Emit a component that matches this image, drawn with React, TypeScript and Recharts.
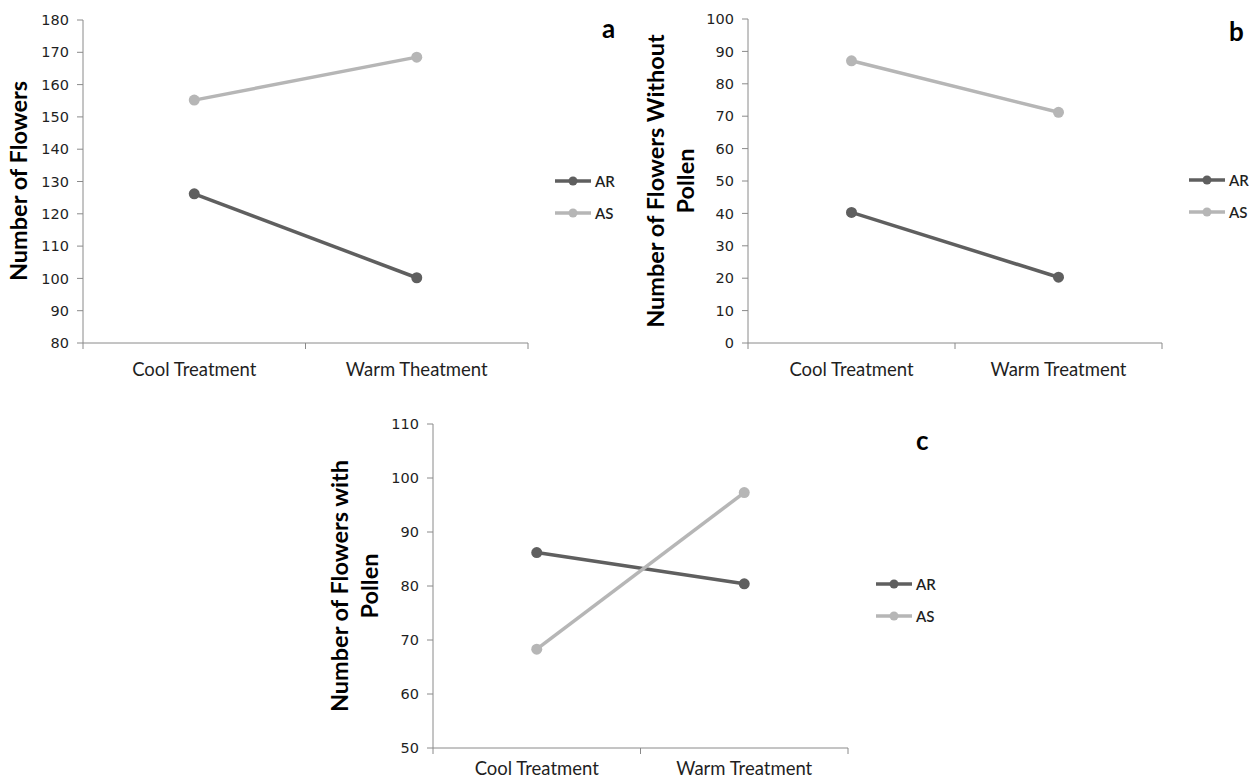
import { Legend, Line, LineChart, XAxis, YAxis } from 'recharts';

// values
const categoriesA = ['Cool Treatment', 'Warm Theatment'];
const categoriesBC = ['Cool Treatment', 'Warm Treatment'];

const flowersAR = [126.2, 100.2];
const flowersAS = [155.2, 168.5];
const withoutPollenAR = [40.3, 20.3];
const withoutPollenAS = [87.1, 71.2];
const withPollenAR = [86.2, 80.4];
const withPollenAS = [68.3, 97.3];

const ticksA = [80, 90, 100, 110, 120, 130, 140, 150, 160, 170, 180];
const ticksB = [0, 10, 20, 30, 40, 50, 60, 70, 80, 90, 100];
const ticksC = [50, 60, 70, 80, 90, 100, 110];

const AR_COLOR = '#5f5f5f';
const AS_COLOR = '#b6b6b6';
const AXIS_COLOR = '#8a8a8a';
const TEXT_COLOR = '#1f1f1f';
const FONT = 'Lato, "Open Sans", sans-serif';
const TICK_FONT = '"DejaVu Sans", sans-serif';

const buildRows = (cats: string[], ar: number[], as: number[]) =>
  cats.map((name, i) => ({ name, AR: ar[i], AS: as[i] }));

const CategoryTick = (props: any) => {
  const { x, payload, index, axisY, band, count, labelOffset } = props;
  return (
    <g>
      <line x1={x - band / 2} x2={x - band / 2} y1={axisY} y2={axisY + 6} stroke={AXIS_COLOR} />
      {index === count - 1 && (
        <line x1={x + band / 2} x2={x + band / 2} y1={axisY} y2={axisY + 6} stroke={AXIS_COLOR} />
      )}
      <text
        x={x}
        y={axisY + labelOffset}
        textAnchor='middle'
        dominantBaseline='central'
        fill={TEXT_COLOR}
        fontSize={18.5}
        fontFamily={FONT}
      >
        {payload.value}
      </text>
    </g>
  );
};

const AxisTitle = ({ lines, cx, cy }: { lines: string[]; cx: number; cy: number }) => (
  <text
    transform={`rotate(-90 ${cx} ${cy})`}
    x={cx}
    y={cy}
    textAnchor='middle'
    dominantBaseline='central'
    fontSize={23.5}
    fontWeight={700}
    fontFamily={FONT}
    fill='#000'
  >
    {lines.map((ln, i) => (
      <tspan key={ln} x={cx} dy={i === 0 ? 0 : 30}>
        {ln}
      </tspan>
    ))}
  </text>
);

const LegendContent = ({ payload }: any) => (
  <div style={{ display: 'flex', flexDirection: 'column', fontFamily: FONT }}>
    {(payload || []).map((entry: any) => (
      <div key={entry.value} style={{ display: 'flex', alignItems: 'center', height: 32 }}>
        <svg width={36} height={12}>
          <line x1={0} x2={36} y1={6} y2={6} stroke={entry.color} strokeWidth={3.5} />
          <circle cx={18} cy={6} r={4.5} fill={entry.color} />
        </svg>
        <span style={{ marginLeft: 4, fontSize: 15, fontWeight: 600, color: TEXT_COLOR }}>
          {entry.value}
        </span>
      </div>
    ))}
  </div>
);

type PanelProps = {
  left: number;
  top: number;
  width: number;
  height: number;
  yAxisWidth: number;
  marginRight: number;
  marginTop: number;
  plotHeight: number;
  data: { name: string; AR: number; AS: number }[];
  ticks: number[];
  titleLines: string[];
  titleX: number;
  titleY: number;
  legendX: number;
  legendY: number;
  labelOffset: number;
};

const Panel = (p: PanelProps) => {
  const axisY = p.marginTop + p.plotHeight;
  const plotRight = p.width - p.marginRight;
  const band = (plotRight - p.yAxisWidth) / p.data.length;
  const xAxisHeight = 20;
  return (
    <div style={{ position: 'absolute', left: p.left, top: p.top }}>
      <LineChart
        width={p.width}
        height={p.height}
        data={p.data}
        margin={{
          top: p.marginTop,
          right: p.marginRight,
          left: 0,
          bottom: p.height - axisY - xAxisHeight,
        }}
      >
        <XAxis
          dataKey='name'
          scale='band'
          height={xAxisHeight}
          interval={0}
          axisLine={{ stroke: AXIS_COLOR }}
          tickLine={false}
          tick={(t: any) => (
            <CategoryTick
              {...t}
              axisY={axisY}
              band={band}
              count={p.data.length}
              labelOffset={p.labelOffset}
            />
          )}
        />
        <YAxis
          width={p.yAxisWidth}
          domain={[p.ticks[0], p.ticks[p.ticks.length - 1]]}
          ticks={p.ticks}
          interval={0}
          tickSize={6}
          tickMargin={8}
          axisLine={{ stroke: AXIS_COLOR }}
          tickLine={{ stroke: AXIS_COLOR }}
          tick={{ fill: TEXT_COLOR, fontSize: 14.5, fontFamily: TICK_FONT }}
          label={{
            content: () => <AxisTitle lines={p.titleLines} cx={p.titleX} cy={p.titleY} />,
          }}
        />
        <Legend
          layout='vertical'
          align='center'
          verticalAlign='middle'
          wrapperStyle={{ left: p.legendX, top: p.legendY, width: 'auto' }}
          content={LegendContent}
        />
        <Line
          dataKey='AR'
          stroke={AR_COLOR}
          strokeWidth={3.5}
          dot={{ r: 5.5, fill: AR_COLOR, stroke: AR_COLOR, strokeWidth: 0 }}
          isAnimationActive={false}
        />
        <Line
          dataKey='AS'
          stroke={AS_COLOR}
          strokeWidth={3.5}
          dot={{ r: 5.5, fill: AS_COLOR, stroke: AS_COLOR, strokeWidth: 0 }}
          isAnimationActive={false}
        />
      </LineChart>
    </div>
  );
};

const letterStyle = (left: number, top: number): React.CSSProperties => ({
  position: 'absolute',
  left,
  top,
  fontFamily: FONT,
  fontWeight: 700,
  fontSize: 26,
  lineHeight: '26px',
  color: '#000',
});

const App = () => (
  <div
    style={{
      position: 'absolute',
      left: 0,
      top: 0,
      width: 1249,
      height: 780,
      overflow: 'hidden',
      background: '#fff',
    }}
  >
    <Panel
      left={0}
      top={0}
      width={630}
      height={390}
      yAxisWidth={83}
      marginRight={102}
      marginTop={20}
      plotHeight={323}
      data={buildRows(categoriesA, flowersAR, flowersAS)}
      ticks={ticksA}
      titleLines={['Number of Flowers']}
      titleX={18}
      titleY={181}
      legendX={555}
      legendY={165}
      labelOffset={26}
    />
    <Panel
      left={630}
      top={0}
      width={619}
      height={390}
      yAxisWidth={118}
      marginRight={87}
      marginTop={19}
      plotHeight={324}
      data={buildRows(categoriesBC, withoutPollenAR, withoutPollenAS)}
      ticks={ticksB}
      titleLines={['Number of Flowers Without', 'Pollen']}
      titleX={25}
      titleY={181}
      legendX={559}
      legendY={164}
      labelOffset={26}
    />
    <Panel
      left={300}
      top={395}
      width={650}
      height={385}
      yAxisWidth={133}
      marginRight={102}
      marginTop={29}
      plotHeight={324}
      data={buildRows(categoriesBC, withPollenAR, withPollenAS)}
      ticks={ticksC}
      titleLines={['Number of Flowers with', 'Pollen']}
      titleX={39}
      titleY={191}
      legendX={576}
      legendY={173}
      labelOffset={20}
    />
    <div style={letterStyle(602, 15)}>a</div>
    <div style={letterStyle(1229, 18)}>b</div>
    <div style={letterStyle(916, 427)}>c</div>
  </div>
);

export default App;
